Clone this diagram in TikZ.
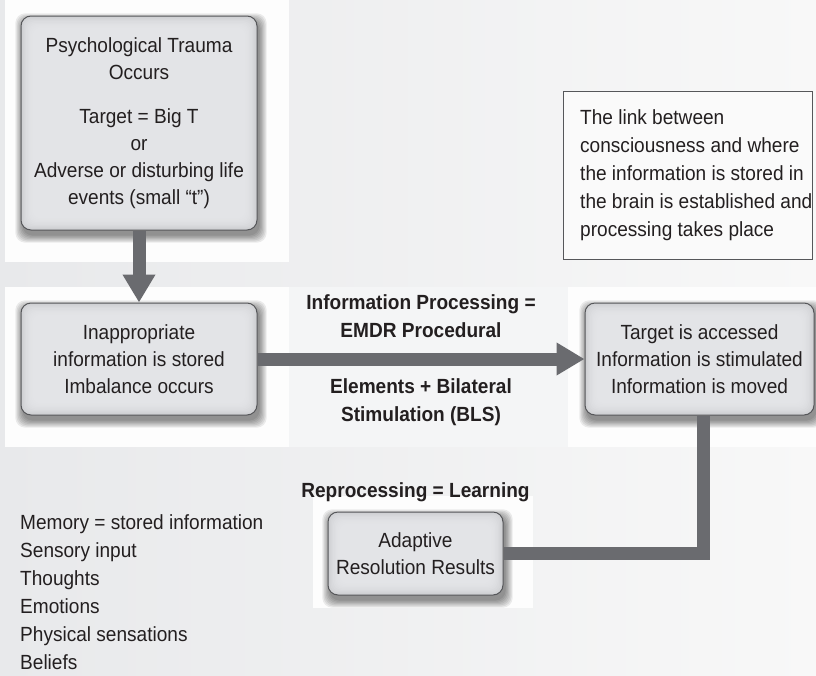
\documentclass[tikz,border=0pt]{standalone}
\usepackage{fontspec}
\setmainfont{Liberation Sans}[FakeStretch=0.93]
\usetikzlibrary{arrows.meta}

\definecolor{bgleft}{HTML}{E8E9EB}
\definecolor{bgright}{HTML}{F8F8F8}
\definecolor{panel}{HTML}{FDFDFD}
\definecolor{midpanel}{HTML}{F4F5F6}
\definecolor{boxedge}{HTML}{CDCED1}
\definecolor{boxcore}{HTML}{E9EAEC}
\definecolor{boxline}{HTML}{56575A}
\definecolor{flow}{HTML}{6A6B6F}
\definecolor{ink}{HTML}{231F20}
\definecolor{notefill}{HTML}{FAFAFA}

\pgfdeclarelayer{panels}
\pgfdeclarelayer{shades}
\pgfdeclarelayer{links}
\pgfsetlayers{panels,shades,links,main}

\tikzset{
  txt/.style={font=\fontsize{20.5}{27}\selectfont, text=ink},
  procbox/.style={txt, draw=boxline, line width=1pt, rounded corners=10pt,
    fill=boxedge, align=center, inner sep=0pt,
    path picture={
      \foreach \i in {1,...,9}{
        \fill[boxcore, fill opacity=0.2, rounded corners=8pt]
          ([shift={(\i*1.3pt,-\i*1.3pt)}]path picture bounding box.north west)
          rectangle
          ([shift={(-\i*1.3pt,\i*1.3pt)}]path picture bounding box.south east);
      }
    }},
  flowlabel/.style={txt, font=\fontsize{20.5}{28}\selectfont\bfseries, align=center},
  flowarrow/.style={draw=flow, line width=13pt,
    -{Triangle[width=31pt,length=28pt]}},
  flowline/.style={draw=flow, line width=13pt, line join=miter},
  listtext/.style={txt, font=\fontsize{20.5}{28}\selectfont, align=left, inner sep=0pt},
}

% soft shadow under a box, built from stacked translucent rounded rectangles
\newcommand\boxshade[1]{%
  \begin{pgfonlayer}{shades}
    \foreach \k in {0,...,6}{
      \fill[black, opacity=0.075, rounded corners=10pt]
        ([shift={(2pt-\k*1.2pt,-5pt+\k*1.2pt)}]#1.north west) rectangle
        ([shift={(2pt+\k*1.2pt,-5pt-\k*1.2pt)}]#1.south east);
    }
  \end{pgfonlayer}}

\begin{document}
\begin{tikzpicture}[x=1pt,y=-1pt]
\useasboundingbox (0,0) rectangle (816,675);

% backdrop and light panels
\begin{pgfonlayer}{panels}
  \shade[left color=bgleft, right color=bgright] (0,0) rectangle (816,675);
  \fill[panel] (5,0) rectangle (289,262);
  \fill[panel] (5,287) rectangle (289,447);
  \fill[midpanel] (289,287) rectangle (568,447);
  \fill[panel] (568,287) rectangle (816,447);
  \fill[panel] (313,496) rectangle (533,608);
\end{pgfonlayer}

% process boxes
\node[procbox, minimum width=236pt, minimum height=214pt] (trauma) at (139,123)
  {Psychological Trauma\\Occurs\\[17pt]Target = Big T\\or\\Adverse or disturbing life\\events (small “t”)};
\node[procbox, minimum width=236pt, minimum height=112pt] (stored) at (139,359)
  {Inappropriate\\information is stored\\Imbalance occurs};
\node[procbox, minimum width=229pt, minimum height=112pt] (access) at (699.5,359)
  {Target is accessed\\Information is stimulated\\Information is moved};
\node[procbox, minimum width=175pt, minimum height=83pt] (adapt) at (415.5,553.5)
  {Adaptive\\Resolution Results};

\boxshade{trauma}
\boxshade{stored}
\boxshade{access}
\boxshade{adapt}

% connectors
\begin{pgfonlayer}{links}
  \draw[flowarrow] (trauma.south) -- (stored.north);
  \draw[flowarrow] (stored.east) -- (access.west);
  \draw[flowline] ([xshift=4pt]access.south) |- (adapt.east);
\end{pgfonlayer}

% labels along the flow
\node[flowlabel] (procA) at (421,316) {Information Processing =\\EMDR Procedural};
\node[flowlabel] (procB) at (421,402) {Elements + Bilateral\\Stimulation (BLS)};
\node[flowlabel] (relearn) at (415.5,492) {Reprocessing = Learning};

% note box
\node[draw=boxline, line width=0.9pt, fill=notefill, minimum width=249pt,
      minimum height=168pt, anchor=north west] (note) at (563,91) {};
\node[listtext, anchor=west] (notetext) at (580,175)
  {The link between\\consciousness and where\\the information is stored in\\the brain is established and\\processing takes place};

% memory list
\node[listtext, anchor=north west] (memory) at (20,514)
  {Memory = stored information\\Sensory input\\Thoughts\\Emotions\\Physical sensations\\Beliefs};
\end{tikzpicture}
\end{document}
